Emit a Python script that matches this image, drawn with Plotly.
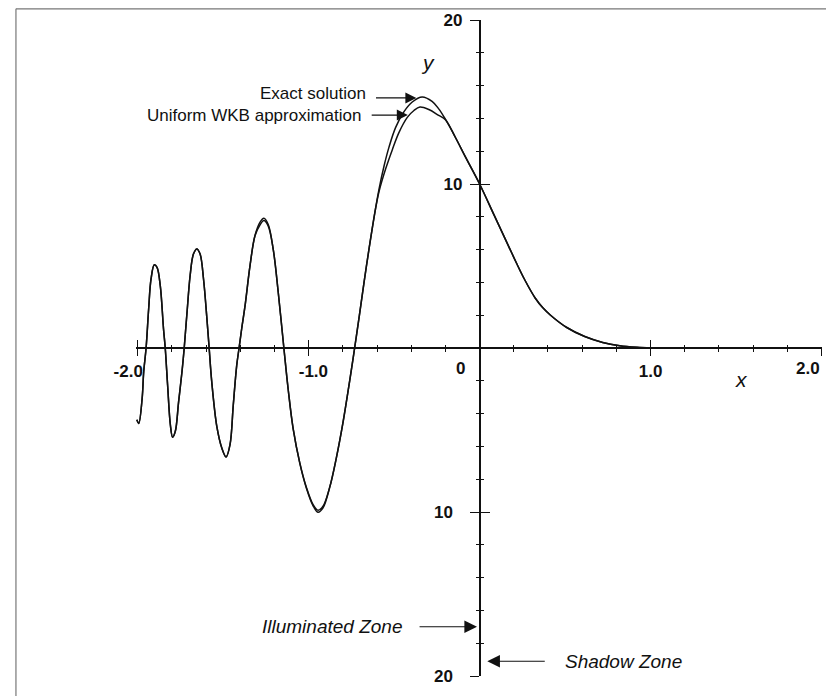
import plotly.graph_objects as go

# ---- data ----
exact_x = [-2.005, -1.994, -1.974, -1.965, -1.951, -1.936, -1.922, -1.903, -1.887, -1.868,
           -1.849, -1.839, -1.825, -1.809, -1.796, -1.780, -1.761, -1.741, -1.728, -1.712,
           -1.693, -1.674, -1.654, -1.635, -1.615, -1.596, -1.582, -1.567, -1.537, -1.508,
           -1.483, -1.460, -1.441, -1.421, -1.407, -1.392, -1.372, -1.343, -1.314, -1.285,
           -1.262, -1.237, -1.207, -1.178, -1.145, -1.120, -1.091, -1.052, -1.013, -0.974,
           -0.945, -0.916, -0.877, -0.838, -0.800, -0.760, -0.731, -0.703, -0.676, -0.646,
           -0.617, -0.588, -0.559, -0.530, -0.491, -0.443, -0.394, -0.336, -0.278, -0.239,
           -0.200, -0.142, -0.083, 0.000, 0.085, 0.170, 0.217, 0.267, 0.325, 0.370,
           0.415, 0.510, 0.615, 0.720, 0.820, 0.920, 1.000]
exact_y = [-4.38, -4.60, -3.07, -1.46, 0.00, 2.38, 4.21, 5.08, 4.92, 3.80,
           1.16, 0.00, -2.27, -4.68, -5.44, -5.08, -3.30, -1.45, 0.00, 2.10,
           4.45, 5.73, 6.04, 5.73, 4.21, 1.90, 0.00, -2.05, -4.80, -6.10,
           -6.64, -5.89, -3.48, -1.07, 0.00, 1.16, 2.58, 5.02, 6.85, 7.66,
           7.91, 7.55, 6.00, 3.40, 0.00, -2.50, -4.90, -7.00, -8.50, -9.55,
           -9.90, -9.65, -8.50, -6.70, -4.60, -2.00, 0.00, 2.00, 4.00, 6.10,
           8.00, 9.70, 11.10, 12.25, 13.45, 14.40, 15.00, 15.31, 15.04, 14.58,
           13.95, 12.85, 11.65, 10.00, 8.10, 6.20, 5.15, 4.10, 3.05, 2.45,
           2.00, 1.25, 0.70, 0.34, 0.14, 0.04, 0.00]

wkb_x = [-2.005, -1.994, -1.974, -1.965, -1.951, -1.936, -1.922, -1.903, -1.887, -1.868,
         -1.849, -1.839, -1.825, -1.809, -1.796, -1.780, -1.761, -1.741, -1.728, -1.712,
         -1.693, -1.674, -1.654, -1.635, -1.615, -1.596, -1.582, -1.567, -1.537, -1.508,
         -1.483, -1.460, -1.441, -1.421, -1.407, -1.392, -1.372, -1.343, -1.314, -1.285,
         -1.262, -1.237, -1.207, -1.178, -1.145, -1.120, -1.091, -1.052, -1.013, -0.974,
         -0.945, -0.916, -0.877, -0.838, -0.800, -0.760, -0.731, -0.703, -0.676, -0.646,
         -0.617, -0.588, -0.549, -0.511, -0.472, -0.423, -0.384, -0.349, -0.297, -0.239,
         -0.200, -0.142, -0.083, 0.000, 0.085, 0.170, 0.217, 0.267, 0.325, 0.370,
         0.415, 0.510, 0.615, 0.720, 0.820, 0.920, 1.000]
wkb_y = [-4.38, -4.60, -3.07, -1.46, 0.00, 2.38, 4.21, 5.08, 4.92, 3.80,
         1.16, 0.00, -2.27, -4.68, -5.44, -5.08, -3.30, -1.45, 0.00, 2.10,
         4.45, 5.73, 6.04, 5.73, 4.21, 1.90, 0.00, -2.05, -4.80, -6.10,
         -6.64, -5.89, -3.48, -1.07, 0.00, 1.16, 2.58, 5.02, 6.85, 7.50,
         7.77, 7.45, 6.00, 3.40, 0.00, -2.50, -4.90, -7.00, -8.55, -9.62,
         -10.02, -9.75, -8.50, -6.70, -4.60, -2.00, 0.00, 2.00, 4.00, 6.10,
         8.00, 9.55, 10.94, 12.08, 13.13, 14.06, 14.48, 14.69, 14.54, 14.18,
         13.92, 12.85, 11.65, 10.00, 8.10, 6.20, 5.15, 4.10, 3.05, 2.45,
         2.00, 1.25, 0.70, 0.34, 0.14, 0.04, 0.00]

x_tickvals = [-2, -1, 1, 2]
x_ticktext = ["-2.0\u00a0\u00a0\u00a0\u00a0", "\u00a0\u00a0-1.0", "1.0", ""]
x_end_label = "2.0"     # label of the last x tick, kept inside the page edge
y_tickvals = [-20, -10, 10, 20]
y_ticktext = ["20\u00a0\u00a0", "10\u00a0\u00a0", "10", "20"]

x_range = [-2.01, 2.003]
y_range = [-20, 20]

FONT = "Liberation Sans, Arial, Helvetica, sans-serif"
INK = "#111111"

fig = go.Figure()
fig.add_trace(go.Scatter(x=exact_x, y=exact_y, mode="lines", name="Exact solution",
                         line=dict(color=INK, width=1.5, shape="spline", smoothing=1.0)))
fig.add_trace(go.Scatter(x=wkb_x, y=wkb_y, mode="lines", name="Uniform WKB approximation",
                         xaxis="x2", yaxis="y2",
                         line=dict(color=INK, width=1.5, shape="spline", smoothing=1.0)))

xpos = (0 - y_range[0]) / (y_range[1] - y_range[0])
ypos = (0 - x_range[0]) / (x_range[1] - x_range[0])

tickfont = dict(family=FONT, size=17, color=INK, weight="bold")

common_x = dict(range=x_range, showgrid=False, zeroline=False, anchor="free", position=xpos,
                tickvals=x_tickvals, tickcolor=INK, tickwidth=1.3, automargin=False)
common_y = dict(range=y_range, showgrid=False, zeroline=False, anchor="free", position=ypos,
                tickvals=y_tickvals, tickcolor=INK, tickwidth=1.3, automargin=False)

fig.update_layout(
    width=826, height=696,
    margin=dict(l=136, r=4, t=20, b=20, autoexpand=False),
    paper_bgcolor="white", plot_bgcolor="white",
    showlegend=False,
    xaxis=dict(**common_x, showline=True, linecolor=INK, linewidth=1.5,
               ticks="outside", ticklen=7, ticktext=x_ticktext, tickfont=tickfont,
               ticklabelstandoff=1, ticklabeloverflow="allow",
               minor=dict(ticks="outside", ticklen=3, dtick=0.2, tick0=0, tickcolor=INK, tickwidth=1.2)),
    xaxis2=dict(**common_x, overlaying="x", side="bottom", showline=False, ticks="inside", ticklen=8,
                showticklabels=False,
                minor=dict(ticks="inside", ticklen=3, dtick=0.2, tick0=0, tickcolor=INK, tickwidth=1.2)),
    yaxis=dict(**common_y, showline=True, linecolor=INK, linewidth=1.5,
               ticks="outside", ticklen=9, ticktext=y_ticktext, tickfont=tickfont,
               ticklabelstandoff=4, ticklabeloverflow="allow",
               minor=dict(ticks="outside", ticklen=3, dtick=2, tick0=0, tickcolor=INK, tickwidth=1.2)),
    yaxis2=dict(**common_y, overlaying="y", side="left", showline=False, ticks="inside", ticklen=9,
                showticklabels=False,
                minor=dict(ticks="inside", ticklen=3, dtick=2, tick0=0, tickcolor=INK, tickwidth=1.2)),
)

lab = dict(family=FONT, size=17, color=INK)
ital = dict(family=FONT, size=19, color=INK, style="italic")
arrow = dict(xref="x", yref="y", axref="x", ayref="y", text="", showarrow=True,
             arrowhead=2, arrowwidth=1.1, arrowcolor=INK)

annotations = [
    # origin label and last x tick label
    dict(x=0, y=0, xref="x", yref="y", text="0", showarrow=False, xanchor="right", yanchor="top",
         xshift=-13, yshift=-9, font=tickfont),
    dict(x=x_tickvals[-1], y=0, xref="x", yref="y", text=x_end_label, showarrow=False,
         xanchor="right", yanchor="top", xshift=1, yshift=-9, font=tickfont),
    # axis names
    dict(x=-0.30, y=17.4, xref="x", yref="y", text="y", showarrow=False, font=dict(ital, size=21)),
    dict(x=1.53, y=-1.95, xref="x", yref="y", text="x", showarrow=False, font=dict(ital, size=21)),
    # curve labels
    dict(x=-0.655, y=15.5, xref="x", yref="y", text="Exact solution", showarrow=False,
         xanchor="right", font=lab),
    dict(x=-0.68, y=14.15, xref="x", yref="y", text="Uniform WKB approximation", showarrow=False,
         xanchor="right", font=lab),
    dict(arrow, x=-0.37, y=15.25, ax=-0.615, ay=15.25, arrowsize=2.0),
    dict(arrow, x=-0.42, y=14.2, ax=-0.64, ay=14.2, arrowsize=2.0),
    # zones
    dict(x=-0.44, y=-17.0, xref="x", yref="y", text="Illuminated Zone", showarrow=False,
         xanchor="right", font=ital),
    dict(arrow, x=-0.015, y=-17.0, ax=-0.36, ay=-17.0, arrowsize=2.3),
    dict(x=0.485, y=-19.1, xref="x", yref="y", text="Shadow Zone", showarrow=False,
         xanchor="left", font=ital),
    dict(arrow, x=0.045, y=-19.1, ax=0.39, ay=-19.1, arrowsize=2.3),
]
fig.update_layout(annotations=annotations)

# scanned-page frame (left and top edges)
fig.add_shape(type="line", xref="paper", yref="paper", x0=-0.175, x1=-0.175, y0=1.017, y1=-0.1,
              line=dict(color="#777777", width=1.2))
fig.add_shape(type="line", xref="paper", yref="paper", x0=-0.175, x1=1.05, y0=1.017, y1=1.017,
              line=dict(color="#777777", width=1.2))

fig.write_html("out.html")
